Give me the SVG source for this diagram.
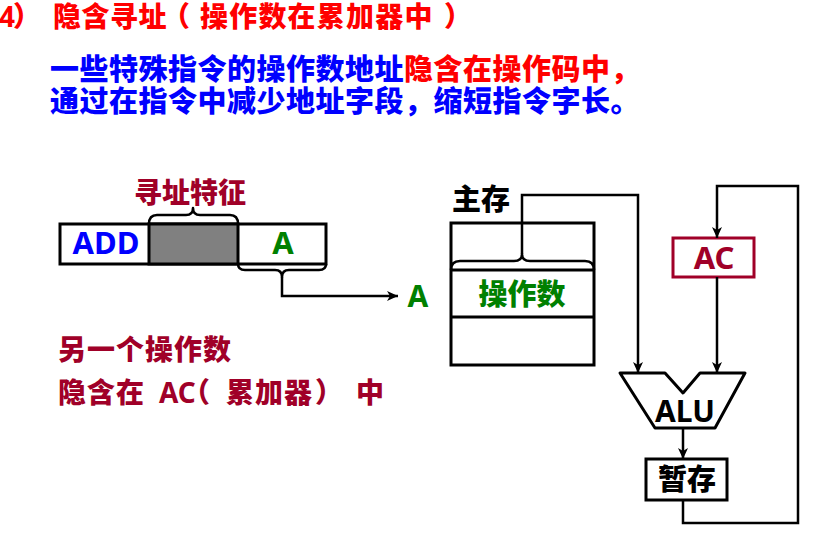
<svg xmlns="http://www.w3.org/2000/svg" width="828" height="542" viewBox="0 0 828 542">
<defs>
<style>
.cjk{font-family:"Noto Sans CJK SC","Noto Sans",sans-serif;font-weight:900;}
.lat{font-family:"Noto Sans","Liberation Sans",sans-serif;font-weight:bold;}
.box{fill:#fff;stroke:#000;stroke-width:3;}
.ln{fill:none;stroke:#000;stroke-width:2.5;}
.br{fill:none;stroke:#000;stroke-width:2.5;stroke-linejoin:round;}
.red{fill:#FF0000;}
.blue{fill:#0000FF;}
.dred{fill:#A00028;}
.green{fill:#008000;}
</style>
<marker id="arr" markerUnits="userSpaceOnUse" markerWidth="12" markerHeight="12" viewBox="0 0 12 12" refX="11" refY="6" orient="auto">
<path d="M0,1 L11,6 L0,11 L3,6 z" fill="#000"/>
</marker>
</defs>
<rect width="828" height="542" fill="#fff"/>

<g id="title">
<text class="cjk red" font-size="28" y="27"><tspan x="-1" class="lat">4</tspan><tspan x="13">）</tspan><tspan x="53" letter-spacing="0.5">隐含寻址</tspan><tspan x="162">（</tspan><tspan x="200" letter-spacing="1.2">操作数在累加器中</tspan><tspan x="444">）</tspan></text>
</g>
<g id="desc">
<text class="cjk" font-size="29" letter-spacing="0.5" y="80"><tspan x="50" class="blue">一些特殊指令的操作数地址</tspan><tspan x="404" class="red">隐含在操作码中，</tspan></text>
<text class="cjk blue" font-size="29" letter-spacing="0.5" x="50" y="112">通过在指令中减少地址字段，缩短指令字长。</text>
</g>

<g id="instruction">
<rect x="60" y="224" width="266" height="40" class="box"/>
<rect x="149" y="224" width="89" height="40" fill="#808080" stroke="#000" stroke-width="3"/>
<text class="lat blue" font-size="31" x="106" y="254" text-anchor="middle">ADD</text>
<text class="lat green" font-size="31" x="283" y="254" text-anchor="middle">A</text>
</g>
<g id="feature-label">
<path class="br" d="M149,224 Q149,215 157,215 L186,215 Q193,215 193,208 Q193,215 200,215 L230,215 Q238,215 238,224"/>
<text class="cjk dred" font-size="28" x="134" y="203">寻址特征</text>
</g>
<g id="addrA">
<text class="lat green" font-size="30" x="418" y="307" text-anchor="middle">A</text>
</g>
<g id="other-operand">
<text class="cjk dred" font-size="28" x="58" y="360" letter-spacing="1">另一个操作数</text>
<text class="cjk dred" font-size="28" y="403"><tspan x="58" letter-spacing="1">隐含在</tspan><tspan x="159" class="lat">AC</tspan><tspan x="182">（</tspan><tspan x="226" letter-spacing="1">累加器</tspan><tspan x="315">）</tspan><tspan x="356">中</tspan></text>
</g>

<g id="memory">
<text class="cjk" font-size="29" x="452" y="210" fill="#000">主存</text>
<rect x="451" y="223" width="143" height="142" class="box"/>
<line x1="451" y1="270" x2="594" y2="270" stroke="#000" stroke-width="3"/>
<line x1="451" y1="317" x2="594" y2="317" stroke="#000" stroke-width="3"/>
<text class="cjk green" font-size="29" x="522" y="305" text-anchor="middle">操作数</text>
</g>
<g id="AC">
<rect x="673" y="238" width="81" height="39" fill="#fff" stroke="#A00028" stroke-width="3"/>
<text class="lat dred" font-size="31" x="714" y="269" text-anchor="middle">AC</text>
</g>
<g id="ALU">
<path d="M620,373 L665,373 L683,393 L700,373 L745,373 L715,428 L655,428 Z" fill="#fff" stroke="#000" stroke-width="3" stroke-linejoin="round"/>
<text class="lat" font-size="30" x="685" y="422" text-anchor="middle" fill="#000">ALU</text>
</g>
<g id="temp">
<rect x="646" y="459" width="81" height="41" class="box"/>
<text class="cjk" font-size="29" x="687" y="490" text-anchor="middle" fill="#000">暂存</text>
</g>

<g id="connectors">
<path class="br" d="M238,264 Q238,270 245,270 L275,270 Q282,270 282,277 Q282,270 289,270 L319,270 Q326,270 326,264"/>
<path class="ln" d="M282,277 L282,296 L398,296" marker-end="url(#arr)"/>
<path class="br" d="M451,270 Q451,261 460,261 L514,261 Q522,261 522,254 Q522,261 530,261 L585,261 Q594,261 594,270"/>
<path class="ln" d="M522,254 L522,195 L638,195 L638,373" marker-end="url(#arr)"/>
<path class="ln" d="M717,277 L717,373" marker-end="url(#arr)"/>
<path class="ln" d="M683,428 L683,459" marker-end="url(#arr)"/>
<path class="ln" d="M683,500 L683,523 L798,523 L798,186 L717,186 L717,238" marker-end="url(#arr)"/>
</g>
</svg>
